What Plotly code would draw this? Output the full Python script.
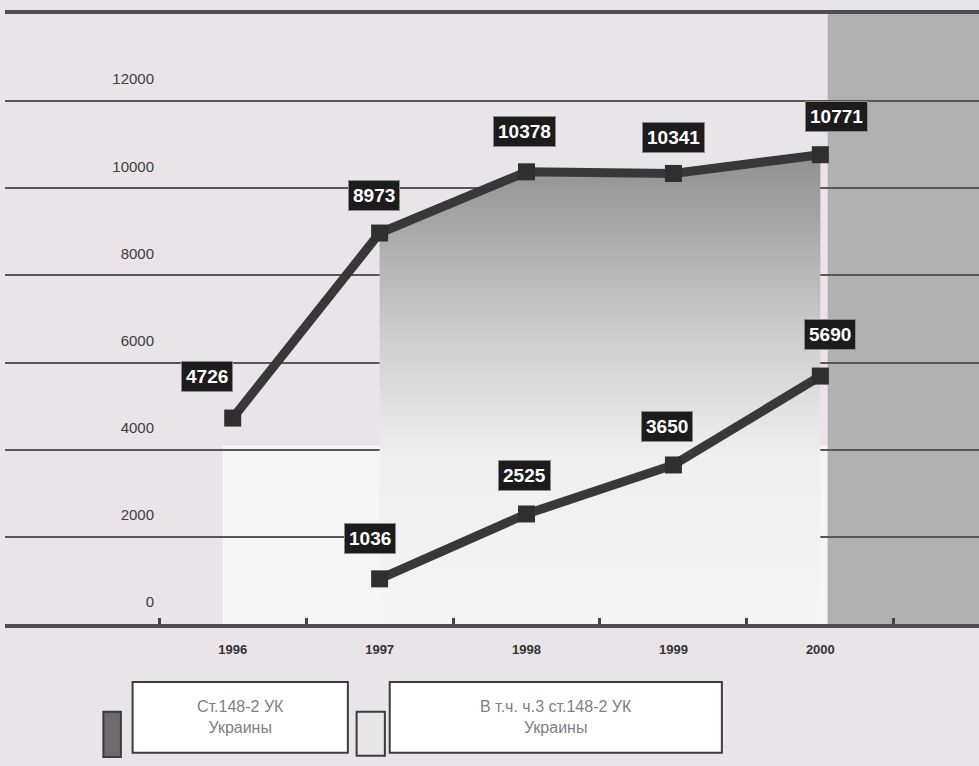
import plotly.graph_objects as go

# Ст.148-2 УК Украины: registered cases by year
years = ["1996", "1997", "1998", "1999", "2000"]
total_cases = [4726, 8973, 10378, 10341, 10771]
# of which part 3 of Art. 148-2 (no data for 1996)
part3_cases = [None, 1036, 2525, 3650, 5690]

y_ticks = [0, 2000, 4000, 6000, 8000, 10000, 12000]
y_tick_text = [str(v) for v in y_ticks]
legend_names = ["Ст.148-2 УК<br>Украины", "В т.ч. ч.3 ст.148-2 УК<br>Украины"]

# label offsets (pixels) relative to each point
total_offsets = [(-26, -42), (-6, -38), (-2, -40), (0, -36), (16, -38)]
part3_offsets = [None, (-10, -40), (-2, -38), (-6, -38), (10, -42)]

xs = list(range(len(years)))
LINE = "#383838"
label_font = dict(family="Liberation Sans Narrow, Arial Narrow, Liberation Sans",
                  size=19, color="white")

fig = go.Figure()

# shaded wall under the main series, 1997 onwards
fig.add_trace(go.Scatter(
    x=xs[1:], y=total_cases[1:], mode="none", fill="tozeroy",
    fillgradient=dict(type="vertical", start=0, stop=11000,
                      colorscale=[[0, "#f4f4f4"], [0.35, "#efefef"],
                                  [0.6, "#cdcdcd"], [1, "#8c8c8c"]]),
    hoverinfo="skip", showlegend=False))

fig.add_trace(go.Scatter(
    x=xs, y=total_cases, mode="lines+markers", name="Ст.148-2 УК Украины",
    line=dict(color=LINE, width=9),
    marker=dict(symbol="square", size=17, color="#2f2f2f"),
    showlegend=False))

px_idx = [i for i, v in enumerate(part3_cases) if v is not None]
fig.add_trace(go.Scatter(
    x=[xs[i] for i in px_idx], y=[part3_cases[i] for i in px_idx],
    mode="lines+markers", name="В т.ч. ч.3 ст.148-2 УК Украины",
    line=dict(color=LINE, width=9),
    marker=dict(symbol="square", size=17, color="#2f2f2f"),
    yaxis="y2", showlegend=False))

annotations = []


def value_label(x, y, off, yref):
    return dict(x=x, y=y, xref="x", yref=yref, text=f"<b>{y}</b>",
                showarrow=True, arrowwidth=0.1, arrowcolor="rgba(0,0,0,0)",
                ax=off[0], ay=off[1], bgcolor="#1c1c1c", bordercolor="#8a8a8a",
                borderwidth=1, borderpad=4, font=label_font)


for i, v in enumerate(total_cases):
    annotations.append(value_label(xs[i], v, total_offsets[i], "y"))
for i in px_idx:
    annotations.append(value_label(xs[i], part3_cases[i], part3_offsets[i], "y2"))

# custom legend text boxes
legend_font = dict(family="Liberation Sans, Arial", size=16, color="#808080")
annotations.append(dict(x=0.2415, y=-0.153, xref="paper", yref="paper",
                        xanchor="center", yanchor="middle",
                        text=legend_names[0], showarrow=False, align="center",
                        font=legend_font))
annotations.append(dict(x=0.566, y=-0.153, xref="paper", yref="paper",
                        xanchor="center", yanchor="middle",
                        text=legend_names[1], showarrow=False, align="center",
                        font=legend_font))

shapes = [
    # pale floor area at the bottom of the chart
    dict(type="rect", xref="x", yref="y", x0=-0.07, x1=4.05, y0=0, y1=4100,
         fillcolor="#f5f5f5", line=dict(width=0), layer="below"),
    # darker side wall right of the last year
    dict(type="rect", xref="x", yref="y", x0=4.05, x1=5.08, y0=0, y1=14000,
         fillcolor="#b1b1b1", line=dict(width=0), layer="below"),
    # legend swatches and boxes
    dict(type="rect", xref="paper", yref="paper", x0=0.101, x1=0.119, y0=-0.218, y1=-0.144,
         fillcolor="#6b6b6b", line=dict(color="#3c3c3c", width=2), layer="below"),
    dict(type="rect", xref="paper", yref="paper", x0=0.131, x1=0.352, y0=-0.211, y1=-0.095,
         fillcolor="white", line=dict(color="#3c3c3c", width=2), layer="below"),
    dict(type="rect", xref="paper", yref="paper", x0=0.361, x1=0.390, y0=-0.216, y1=-0.144,
         fillcolor="#e6e6e6", line=dict(color="#3c3c3c", width=2), layer="below"),
    dict(type="rect", xref="paper", yref="paper", x0=0.395, x1=0.736, y0=-0.211, y1=-0.095,
         fillcolor="white", line=dict(color="#3c3c3c", width=2), layer="below"),
]

fig.update_layout(
    width=979, height=766,
    margin=dict(l=5, r=0, t=14, b=142),
    paper_bgcolor="#e9e4e8",
    plot_bgcolor="#e9e4e8",
    showlegend=False,
    annotations=annotations,
    shapes=shapes,
    xaxis=dict(
        range=[-1.55, 5.08], tickmode="array", tickvals=xs, ticktext=years,
        ticks="", showgrid=False, zeroline=False,
        showline=True, mirror=True, linecolor="#4e4e4e", linewidth=4,
        tickfont=dict(family="Liberation Sans Narrow, Arial Narrow, Liberation Sans",
                      size=13, color="#333333", weight="bold"),
        ticklabelstandoff=10,
        minor=dict(tickmode="array", tickvals=[-0.5, 0.5, 1.5, 2.5, 3.5, 4.5],
                   ticks="inside", ticklen=6, tickwidth=3, tickcolor="#444444"),
    ),
    yaxis=dict(
        range=[0, 14000], tickmode="array", tickvals=y_ticks + [14000],
        showticklabels=False, ticks="", showgrid=True, gridcolor="#575757",
        gridwidth=2, zeroline=False, showline=False,
    ),
    yaxis2=dict(
        range=[0, 14000], overlaying="y", anchor="free", position=0.153, side="left",
        tickmode="array", tickvals=y_ticks, ticktext=y_tick_text,
        showgrid=False, zeroline=False,
        showline=False, ticks="", ticklabelshift=-22,
        tickfont=dict(family="Liberation Sans Narrow, Arial Narrow, Liberation Sans",
                      size=15, color="#3d3d3d"),
    ),
)

fig.write_html("out.html")
